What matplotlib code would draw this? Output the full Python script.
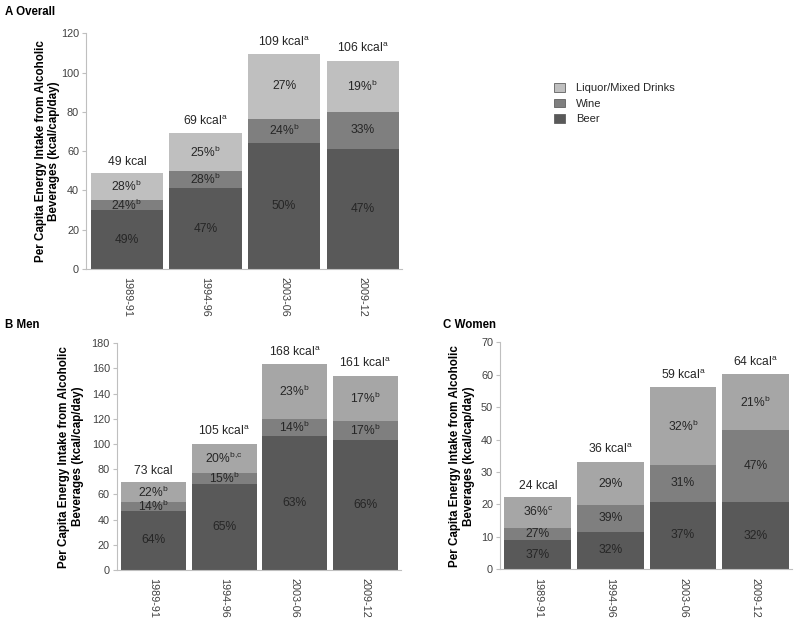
import numpy as np
import matplotlib
matplotlib.use("Agg")
import matplotlib.pyplot as plt
from matplotlib.patches import Patch

plt.rcParams.update(
    {
        "font.family": ["Liberation Sans", "DejaVu Sans"],
        "mathtext.fontset": "custom",
        "mathtext.rm": "Liberation Sans",
        "font.size": 9,
    }
)

# %% data (kcal/cap/day)
periods = ["1989-91", "1994-96", "2003-06", "2009-12"]

beer_all = [29.8, 41.2, 64.4, 61.3]
wine_all = [5.4, 8.6, 12.2, 18.5]
liq_all = [13.6, 19.3, 32.8, 26.1]
tot_all = ["49 kcal", "69 kcal$^\\mathrm{a}$", "109 kcal$^\\mathrm{a}$", "106 kcal$^\\mathrm{a}$"]
beer_all_lab = ["49%", "47%", "50%", "47%"]
wine_all_lab = ["24%$^\\mathrm{b}$", "28%$^\\mathrm{b}$", "24%$^\\mathrm{b}$", "33%"]
liq_all_lab = ["28%$^\\mathrm{b}$", "25%$^\\mathrm{b}$", "27%", "19%$^\\mathrm{b}$"]

beer_men = [47.1, 68.3, 106.1, 103.2]
wine_men = [6.9, 8.9, 13.5, 15.1]
liq_men = [15.8, 22.8, 43.7, 35.7]
tot_men = ["73 kcal", "105 kcal$^\\mathrm{a}$", "168 kcal$^\\mathrm{a}$", "161 kcal$^\\mathrm{a}$"]
beer_men_lab = ["64%", "65%", "63%", "66%"]
wine_men_lab = ["14%$^\\mathrm{b}$", "15%$^\\mathrm{b}$", "14%$^\\mathrm{b}$", "17%$^\\mathrm{b}$"]
liq_men_lab = ["22%$^\\mathrm{b}$", "20%$^\\mathrm{b{,}c}$", "23%$^\\mathrm{b}$", "17%$^\\mathrm{b}$"]

beer_wom = [9.0, 11.6, 20.9, 20.6]
wine_wom = [3.8, 8.2, 11.3, 22.4]
liq_wom = [9.4, 13.3, 23.9, 17.2]
tot_wom = ["24 kcal", "36 kcal$^\\mathrm{a}$", "59 kcal$^\\mathrm{a}$", "64 kcal$^\\mathrm{a}$"]
beer_wom_lab = ["37%", "32%", "37%", "32%"]
wine_wom_lab = ["27%", "39%", "31%", "47%"]
liq_wom_lab = ["36%$^\\mathrm{c}$", "29%", "32%$^\\mathrm{b}$", "21%$^\\mathrm{b}$"]

# %%
c_beer = "#595959"
c_wine = "#7f7f7f"
c_liq_a = "#bfbfbf"
c_liq = "#a6a6a6"
txt = "#262626"
tick_txt = "#404040"
spine_c = "#bfbfbf"
fs = 8.7

fig = plt.figure(figsize=(8, 6.19), dpi=100)
ax_a = fig.add_axes([0.1075, 0.5654, 0.395, 0.3808])
ax_b = fig.add_axes([0.146, 0.0792, 0.355, 0.3662])
ax_c = fig.add_axes([0.625, 0.0803, 0.365, 0.3667])


def panel(ax, beer, wine, liq, tot, lb, lw, ll, ymax, step, cl, lab_x):
    x = np.arange(len(periods))
    beer = np.array(beer)
    wine = np.array(wine)
    liq = np.array(liq)
    ax.bar(x, beer, 0.92, color=c_beer, linewidth=0)
    ax.bar(x, wine, 0.92, bottom=beer, color=c_wine, linewidth=0)
    ax.bar(x, liq, 0.92, bottom=beer + wine, color=cl, linewidth=0)
    for i in range(len(x)):
        ax.text(x[i], beer[i] / 2, lb[i], ha="center", va="center", fontsize=fs, color=txt)
        ax.text(x[i], beer[i] + wine[i] / 2, lw[i], ha="center", va="center",
                fontsize=fs, color=txt)
        ax.text(x[i], beer[i] + wine[i] + liq[i] / 2, ll[i], ha="center", va="center",
                fontsize=fs, color=txt)
        ax.annotate(tot[i], (x[i], beer[i] + wine[i] + liq[i]), xytext=(0, 4),
                    textcoords="offset points", ha="center", va="bottom",
                    fontsize=fs, color=txt)
    ax.set_xlim(-0.52, 3.5)
    ax.set_ylim(0, ymax)
    ax.set_yticks(np.arange(0, ymax + 0.1, step))
    ax.set_xticks(x)
    ax.set_xticklabels(periods, rotation=-90, fontsize=7.8, color=tick_txt)
    ax.tick_params(axis="y", labelsize=7.8, labelcolor=tick_txt, color=spine_c,
                   length=3, width=0.8, pad=2)
    ax.tick_params(axis="x", length=0, pad=6)
    ax.spines["top"].set_visible(False)
    ax.spines["right"].set_visible(False)
    for s in ["left", "bottom"]:
        ax.spines[s].set_color(spine_c)
        ax.spines[s].set_linewidth(0.8)
    ax.set_ylabel("Per Capita Energy Intake from Alcoholic\nBeverages (kcal/cap/day)",
                  fontsize=8.4, fontweight="bold", color="black")
    ax.yaxis.set_label_coords(lab_x, 0.5)
    ax.yaxis.label.set_va("center")


panel(ax_a, beer_all, wine_all, liq_all, tot_all, beer_all_lab,
      wine_all_lab, liq_all_lab, 120, 20, c_liq_a, -0.122)
panel(ax_b, beer_men, wine_men, liq_men, tot_men, beer_men_lab, wine_men_lab,
      liq_men_lab, 180, 20, c_liq, -0.16)
panel(ax_c, beer_wom, wine_wom, liq_wom, tot_wom, beer_wom_lab, wine_wom_lab,
      liq_wom_lab, 70, 10, c_liq, -0.13)

fig.text(5 / 800, 1 - 12 / 619, "A Overall", fontsize=8.3, fontweight="bold", va="center")
fig.text(5 / 800, 1 - 325 / 619, "B Men", fontsize=8.3, fontweight="bold", va="center")
fig.text(443 / 800, 1 - 325 / 619, "C Women", fontsize=8.3, fontweight="bold", va="center")

handles = [
    Patch(facecolor=c_liq_a, edgecolor="#606060", linewidth=0.6),
    Patch(facecolor=c_wine, edgecolor="#606060", linewidth=0.6),
    Patch(facecolor=c_beer, edgecolor="#606060", linewidth=0.6),
]
fig.legend(handles, ["Liquor/Mixed Drinks", "Wine", "Beer"], loc="upper left",
           bbox_to_anchor=(544 / 800, 1 - 73 / 619), frameon=False, fontsize=8,
           handlelength=1.0, handleheight=0.8, handletextpad=1.0, labelspacing=0.5,
           labelcolor=txt)

fig.savefig("out.png", dpi=100)
